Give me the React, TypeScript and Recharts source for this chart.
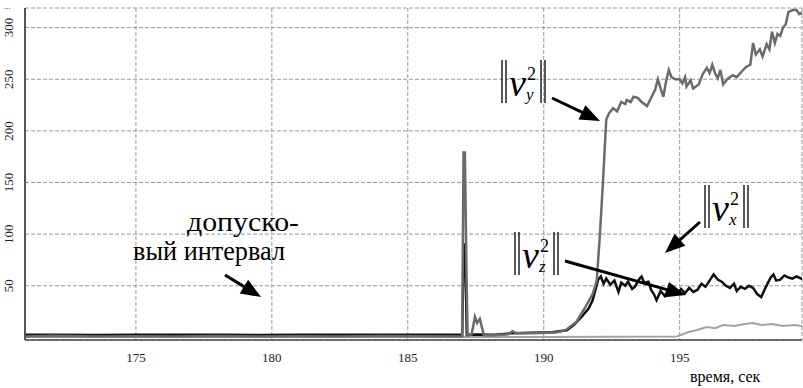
import React from "react";
import { LineChart, Line, XAxis, YAxis, CartesianGrid } from "recharts";

// ---- data ----
const xTicks = [175, 180, 185, 190, 195];
const yTicks = [50, 100, 150, 200, 250, 300];

// ||v_y^2|| (grey)
const vyT = [170.9, 172, 173.5, 175, 176.5, 178, 179.5, 181, 182.5, 184, 185.5, 187.0, 187.05, 187.1, 187.16, 187.2, 187.35, 187.47, 187.55, 187.65, 187.8, 188.2, 188.7, 188.85, 189.0, 189.6, 190.2, 190.5, 190.8, 191.2, 191.5, 191.8, 191.95, 192.06, 192.17, 192.3, 192.4, 192.55, 192.7, 192.85, 193.0, 193.05, 193.2, 193.3, 193.46, 193.6, 193.8, 193.95, 194.1, 194.2, 194.3, 194.4, 194.5, 194.6, 194.7, 194.85, 195.0, 195.1, 195.2, 195.25, 195.4, 195.5, 195.7, 195.85, 196.0, 196.1, 196.2, 196.3, 196.4, 196.5, 196.6, 196.75, 196.95, 197.1, 197.3, 197.45, 197.6, 197.7, 197.8, 197.95, 198.05, 198.2, 198.3, 198.4, 198.5, 198.6, 198.7, 198.8, 198.9, 199.0, 199.15, 199.3, 199.4, 199.55];
const vyV = [1, 1.5, 0.8, 1.2, 1, 1.4, 0.9, 1.2, 1, 1.3, 1.1, 1, 179, 179, 60, 2, 3, 20, 14, 18, 2, 2, 3, 6, 4, 4, 4.5, 5, 7, 15, 28, 42, 55, 97, 146, 211, 217, 222, 219, 228, 226, 230, 228, 233, 232, 228, 224, 232, 240, 250, 241, 233, 248, 259, 252, 250, 250, 246, 252, 243, 249, 241, 245, 255, 261, 256, 264, 256, 251, 259, 245, 250, 254, 252, 258, 262, 264, 285, 274, 279, 272, 284, 279, 296, 285, 294, 292, 300, 303, 315, 317, 317, 313, 315];

// ||v_x^2|| (black)
const vxT = [170.9, 172, 173.5, 175, 176.5, 178, 179.5, 181, 182.5, 184, 185.5, 187.0, 187.06, 187.11, 187.17, 187.5, 188.2, 188.8, 189.5, 190.3, 190.85, 191.1, 191.4, 191.65, 191.8, 192.0, 192.1, 192.2, 192.3, 192.45, 192.6, 192.75, 192.85, 193.0, 193.1, 193.25, 193.35, 193.5, 193.6, 193.7, 193.85, 193.95, 194.05, 194.15, 194.3, 194.45, 194.6, 194.8, 194.95, 195.05, 195.2, 195.35, 195.5, 195.65, 195.8, 195.95, 196.1, 196.25, 196.4, 196.55, 196.7, 196.85, 197.0, 197.1, 197.25, 197.4, 197.55, 197.7, 197.85, 198.0, 198.1, 198.25, 198.35, 198.45, 198.55, 198.7, 198.85, 199.0, 199.15, 199.3, 199.55];
const vxV = [2.5, 2.6, 2.4, 2.5, 2.6, 2.5, 2.4, 2.5, 2.6, 2.5, 2.5, 2.5, 90, 90, 2.5, 2.8, 2.6, 4, 4.5, 5, 7, 12, 20, 28, 36, 56, 59, 52, 57, 51, 55, 44, 53, 50, 54, 47, 49, 56, 59, 53, 54, 46, 42, 36, 45, 40, 47, 46, 43, 47, 43, 48, 44, 46, 52, 49, 55, 61, 56, 54, 50, 48, 52, 45, 49, 47, 50, 48, 42, 39, 45, 53, 58, 61, 55, 56, 60, 58, 57, 59, 56];

// ||v_z^2|| (light grey)
const vzT = [170.9, 175, 180, 185, 190, 194.9, 195.3, 195.6, 196.0, 196.3, 196.6, 197.0, 197.4, 197.7, 198.0, 198.4, 198.8, 199.2, 199.55];
const vzV = [0.3, 0.3, 0.3, 0.3, 0.3, 1, 5, 7, 10, 9, 12, 11, 13, 14, 12, 13, 11, 12, 11];

const build = (t: number[], v: number[]) => t.map((x, i) => ({ t: x, v: v[i] }));
const vyData = build(vyT, vyV);
const vxData = build(vxT, vxV);
const vzData = build(vzT, vzV);

const serif = "'Liberation Serif', 'Times New Roman', serif";

const YTick = (props: any) => {
  const { x, y, payload } = props;
  return (
    <text
      x={0}
      y={0}
      transform={`translate(${x - 9},${y}) rotate(-90)`}
      textAnchor="middle"
      dominantBaseline="central"
      fontFamily={serif}
      fontSize={13}
      fill="#222"
    >
      {payload.value}
    </text>
  );
};

const XTick = (props: any) => {
  const { x, y, payload } = props;
  return (
    <text x={x} y={y + 14} textAnchor="middle" fontFamily={serif} fontSize={13} fill="#222">
      {payload.value}
    </text>
  );
};

const Arrow = ({ x1, y1, x2, y2 }: { x1: number; y1: number; x2: number; y2: number }) => {
  const dx = x2 - x1;
  const dy = y2 - y1;
  const len = Math.sqrt(dx * dx + dy * dy);
  const ux = dx / len;
  const uy = dy / len;
  const hl = 20;
  const hw = 8;
  const bx = x2 - ux * hl;
  const by = y2 - uy * hl;
  const p1 = `${bx - uy * hw},${by + ux * hw}`;
  const p2 = `${bx + uy * hw},${by - ux * hw}`;
  return (
    <g>
      <line x1={x1} y1={y1} x2={bx + ux * 2} y2={by + uy * 2} stroke="#000" strokeWidth={3} />
      <polygon points={`${x2},${y2} ${p1} ${p2}`} fill="#000" />
    </g>
  );
};

const Norm = ({ x, y, sub }: { x: number; y: number; sub: string }) => {
  const h = 43;
  return (
    <g>
      <line x1={x} y1={y} x2={x} y2={y + h} stroke="#000" strokeWidth={1.3} />
      <line x1={x + 4} y1={y} x2={x + 4} y2={y + h} stroke="#000" strokeWidth={1.3} />
      <line x1={x + 39} y1={y} x2={x + 39} y2={y + h} stroke="#000" strokeWidth={1.3} />
      <line x1={x + 43} y1={y} x2={x + 43} y2={y + h} stroke="#000" strokeWidth={1.3} />
      <text x={x + 7} y={y + 36} fontFamily={serif} fontStyle="italic" fontSize={38} fill="#000">
        v
      </text>
      <text x={x + 25} y={y + 20} fontFamily={serif} fontSize={18} fill="#000">
        2
      </text>
      <text x={x + 24} y={y + 40} fontFamily={serif} fontStyle="italic" fontSize={17} fill="#000">
        {sub}
      </text>
    </g>
  );
};

export default function App() {
  return (
    <div style={{ position: "absolute", left: 0, top: 0, width: 803, height: 388, background: "#fff" }}>
      <LineChart width={803} height={388} margin={{ top: 8, right: 1, left: 0, bottom: 0 }}>
        <CartesianGrid stroke="#999" strokeDasharray="4 2" strokeWidth={1} />
        <XAxis
          type="number"
          dataKey="t"
          domain={[170.92, 199.5]}
          ticks={xTicks}
          allowDataOverflow
          height={48}
          tick={<XTick />}
          tickLine={false}
          axisLine={{ stroke: "#444", strokeWidth: 1.5 }}
        />
        <YAxis
          type="number"
          dataKey="v"
          domain={[-2.5, 319]}
          ticks={yTicks}
          allowDataOverflow
          width={25}
          tick={<YTick />}
          tickLine={false}
          axisLine={{ stroke: "#555", strokeWidth: 2 }}
        />
        <Line data={vzData} dataKey="v" stroke="#a3a3a3" strokeWidth={2} dot={false} isAnimationActive={false} />
        <Line data={vxData} dataKey="v" stroke="#111" strokeWidth={2.5} dot={false} isAnimationActive={false} />
        <Line data={vyData} dataKey="v" stroke="#6b6b6b" strokeWidth={2.5} dot={false} isAnimationActive={false} />
      </LineChart>
      <svg width={803} height={388} style={{ position: "absolute", left: 0, top: 0, pointerEvents: "none" }}>
        <text x={4} y={9} fontFamily={serif} fontSize={9} fill="#222">...</text>
        <Norm x={502} y={60} sub="y" />
        <Arrow x1={552} y1={98} x2={600} y2={121} />
        <Norm x={705} y={185} sub="x" />
        <Arrow x1={700} y1={222} x2={665} y2={253} />
        <Norm x={515} y={232} sub="z" />
        <Arrow x1={565} y1={261} x2={686} y2={295} />
        <text x={187} y={231} fontFamily={serif} fontSize={27} fill="#000" textLength={112} lengthAdjust="spacingAndGlyphs">допуско-</text>
        <text x={133} y={260} fontFamily={serif} fontSize={27} fill="#000" textLength={152} lengthAdjust="spacingAndGlyphs">вый интервал</text>
        <Arrow x1={225} y1={275} x2={261} y2={297} />
        <text x={690} y={382} fontFamily={serif} fontSize={16} fill="#000">время, сек</text>
      </svg>
    </div>
  );
}
